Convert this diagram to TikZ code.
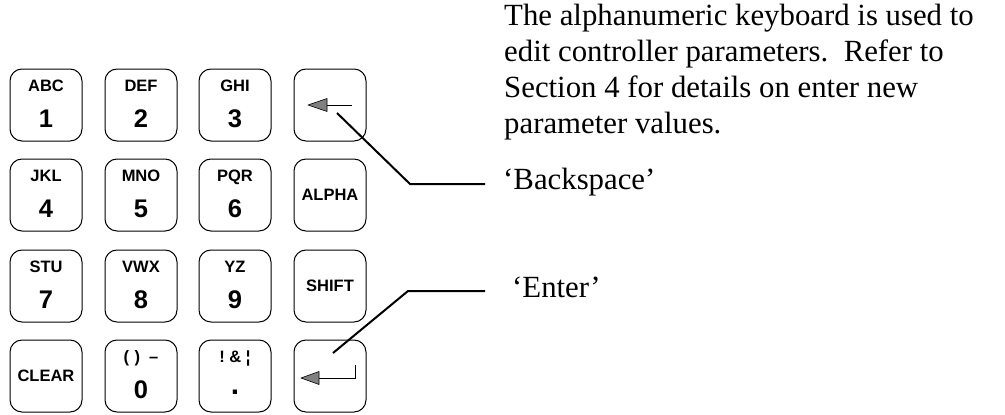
\documentclass[tikz,border=0pt]{standalone}
\usepackage{fontspec}
\setmainfont{Liberation Serif}
\newfontfamily\keyfont{Liberation Sans}
\begin{document}
\begin{tikzpicture}[x=1pt,y=-1pt,
  keycap/.style={draw, line width=1pt, rounded corners=12pt,
    minimum width=72pt, minimum height=72pt, inner sep=0pt},
  letters/.style={font=\keyfont\bfseries\fontsize{16.5}{16.5}\selectfont, anchor=base, inner sep=0pt},
  digit/.style={font=\keyfont\bfseries\fontsize{25.5}{25.5}\selectfont, anchor=base, inner sep=0pt},
  word/.style={font=\keyfont\bfseries\fontsize{16.5}{16.5}\selectfont, inner sep=0pt},
  leader/.style={line width=2pt},
  glyph/.style={line width=1pt},
  head/.style={draw, fill=black!50, line width=0.6pt, line join=round},
  note/.style={font=\fontsize{30.8}{36}\selectfont, inner sep=0pt}]
\useasboundingbox (0,0) rectangle (1005,415);

% numeric keys: letters above, digit below
\foreach \n/\x/\y/\l/\d in {k1/46/105/ABC/1, k2/141/105/DEF/2, k3/235/105/GHI/3,
    k4/46/195/JKL/4, k5/141/195/MNO/5, k6/235/195/PQR/6,
    k7/46/286/STU/7, k8/141/286/VWX/8, k9/235/286/YZ/9,
    k0/141/376/{(\,\,)\;\;–}/0}{
  \node[keycap] (\n) at (\x,\y) {};
  \node[letters] (\n-l) at ([yshift=-23pt]\n.north) {\l};
  \node[digit] (\n-d) at ([yshift=-59pt]\n.north) {\d};
}

% decimal point key
\node[keycap] (kp) at (235,376) {};
\node[letters] (kp-l) at ([yshift=-23pt]kp.north) {!\;\&\;¦};
\node[font=\keyfont\bfseries\fontsize{30}{30}\selectfont, inner sep=0pt] (kp-d) at (235,392) {.};

% function keys
\node[keycap] (clear) at (46,376) {};
\node[word] at (clear) {CLEAR};
\node[keycap] (alpha) at (330,195) {};
\node[word] at (alpha) {ALPHA};
\node[keycap] (shift) at (330,286) {};
\node[word] at (shift) {SHIFT};

% backspace key
\node[keycap] (bsp) at (330,105) {};
\begin{scope}[shift={(bsp.center)}]
  \draw[glyph] (22,0) -- (-3,0);
  \draw[head] (-22,0) -- (-3,-6.5) -- (-3,6.5) -- cycle;
  \coordinate (bs-from) at (7,8);
\end{scope}

% enter key
\node[keycap] (ent) at (330,376) {};
\begin{scope}[shift={(ent.center)}]
  \draw[glyph] (25,-11) -- (25,2) -- (-11,2);
  \draw[head] (-29,2) -- (-11,-4.5) -- (-11,8.5) -- cycle;
  \coordinate (en-from) at (3,-23);
\end{scope}

% callouts
\coordinate (bs-bend) at (410,184);
\coordinate (bs-end) at (485,184);
\node[note, anchor=base west] (bs-label) at (503,189) {‘Backspace’};
\draw[leader] (bs-from) -- (bs-bend) -- (bs-end);

\coordinate (en-bend) at (408,291);
\coordinate (en-end) at (485,291);
\node[note, anchor=base west] (en-label) at (512,297) {‘Enter’};
\draw[leader] (en-from) -- (en-bend) -- (en-end);

% description
\node[note, anchor=north west, align=left] (desc) at (504,4)
  {The alphanumeric keyboard is used to\\
   edit controller parameters.\ \ Refer to\\
   Section 4 for details on enter new\\
   parameter values.};
\end{tikzpicture}
\end{document}
